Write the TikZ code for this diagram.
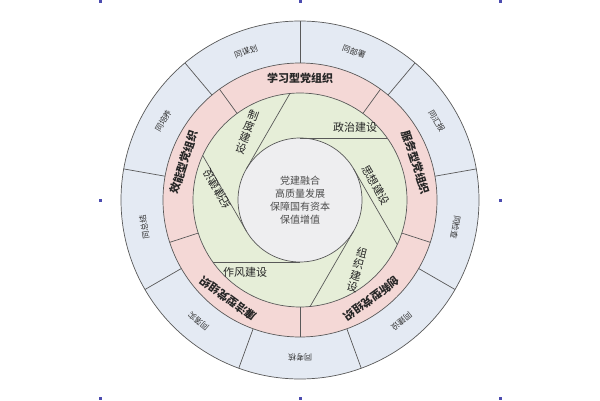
\documentclass[tikz,border=0pt]{standalone}
\usepackage{fontspec}
\setmainfont{Noto Sans CJK SC}
\definecolor{outc}{HTML}{E4EAF3}
\definecolor{pinkc}{HTML}{F4D8D6}
\definecolor{greenc}{HTML}{E6EED8}
\definecolor{cenc}{HTML}{EEEEF0}
\begin{document}
\begin{tikzpicture}[x=1pt,y=1pt,
  ringline/.style={draw=black!65,line width=0.7pt},
  outlab/.style={font=\fontsize{8}{9}\selectfont,text=black!80,inner sep=1pt},
  pinklab/.style={font=\fontsize{11}{12}\selectfont\bfseries,text=black!85,inner sep=1pt},
  greenlab/.style={font=\fontsize{11}{12}\selectfont,text=black!85},
  handle/.style={fill=blue!55!black!70,minimum size=3pt,inner sep=0pt}]
\useasboundingbox (0,0) rectangle (600,400);
\coordinate (c) at (300,200);
% rings
\fill[fill=outc,ringline] (c) circle (179);
\fill[fill=pinkc,ringline] (c) circle (137);
\fill[fill=greenc,ringline] (c) circle (107);
\fill[fill=cenc,ringline] (c) circle (62);
% outer dividers
\foreach \a in {90,50,10,-30,-70,-110,-150,170,130}
  \draw[ringline] ([shift={(\a:137)}]c) -- ([shift={(\a:179)}]c);
% pink dividers
\foreach \a in {-90,-18,54,126,198}
  \draw[ringline] ([shift={(\a:107)}]c) -- ([shift={(\a:137)}]c);
% green shutter lines
\foreach \t in {90,30,-30,-90,-150,150}
  \draw[ringline] ([shift={(\t:62)}]c) -- ++(\t-90:87);
% outer labels
\foreach \a/\s in {110/同谋划,70/同部署,30/同汇报,-10/同检查,-50/同建设,-90/同考核,-130/同落实,-170/同总结,150/同培养}
  \node[outlab,rotate=\a-90] (o\a) at ([shift={(\a:158)}]c) {\s};
% pink labels
\foreach \a/\s in {90/学习型党组织,18/服务型党组织,-54/创新型党组织,-126/廉洁型党组织,162/效能型党组织}
  \node[pinklab,rotate=\a-90] (p\a) at ([shift={(\a:122)}]c) {\s};
% green labels
\node[greenlab] (g1) at (355,273) {政治建设};
\node[greenlab,rotate=-60] (g2) at (376,215) {思想建设};
\node[greenlab,align=center,rotate=-15,inner sep=0pt] (g3) at (357,130) {组\\织\\建\\设};
\node[greenlab] (g4) at (245,128) {作风建设};
\node[greenlab,rotate=120] (g5) at (217,211) {纪律建设};
\node[greenlab,align=center,rotate=-20,inner sep=0pt] (g6) at (247,268) {制\\度\\建\\设};
% centre
\node[align=center,font=\fontsize{10}{13}\selectfont,text=black!70] (ctr) at (c) {党建融合\\高质量发展\\保障国有资本\\保值增值};
% handles
\foreach \x/\y [count=\i] in {100/398,300/398,500/398,100/200,500/200,100/2,300/2,500/2}
  \node[handle] (h\i) at (\x,\y) {};
\end{tikzpicture}
\end{document}
